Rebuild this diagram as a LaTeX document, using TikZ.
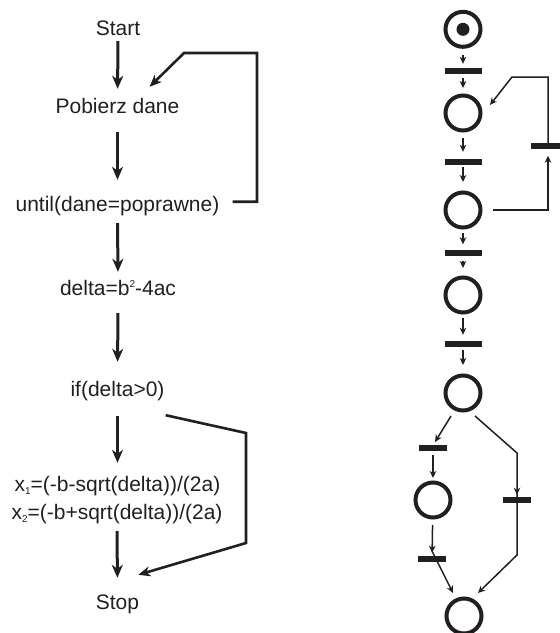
\documentclass[tikz,border=0pt]{standalone}
\usepackage{fontspec}
\setmainfont{Liberation Sans}
\usetikzlibrary{arrows.meta}
\definecolor{ink}{RGB}{35,31,32}
% small raised / lowered indices
\newcommand\lowidx[1]{\raisebox{-3pt}{\fontsize{10}{10}\selectfont#1}}
\newcommand\hiidx[1]{\raisebox{8pt}{\fontsize{10}{10}\selectfont#1}}
\begin{document}
\begin{tikzpicture}[x=1pt,y=-1pt,
  txt/.style={inner sep=0pt, text height=15pt, text depth=4.5pt,
    font=\fontsize{21}{25}\selectfont, text=ink, anchor=base},
  flow/.style={draw=ink, line width=3pt,
    -{Stealth[length=13pt,width=11pt,inset=4pt]}},
  back/.style={draw=ink, line width=2.6pt,
    -{Stealth[length=12pt,width=10pt,inset=3.5pt]}},
  place/.style={circle, draw=ink, line width=4pt, minimum size=35pt, inner sep=0pt},
  bar/.style={fill=ink, minimum width=37pt, minimum height=6pt, inner sep=0pt},
  sbar/.style={bar, minimum width=28pt},
  pnarc/.style={draw=ink, line width=1.5pt,
    -{Stealth[length=7pt,width=6.5pt,inset=2pt]}}]
\useasboundingbox[fill=white] (0,0) rectangle (560,633);

% ---------- flowchart ----------
\node[txt] (start) at (118,35)  {Start};
\node[txt] (pob)   at (117.5,113) {Pobierz dane};
\node[txt] (until) at (117.5,211) {until(dane=poprawne)};
\node[txt] (delta) at (118,295) {delta=b\hiidx{2}-4ac};
\node[txt] (cond)  at (117.5,396) {if(delta>0)};
\node[txt] (xa)    at (117.5,491) {x\lowidx{1}=(-b-sqrt(delta))/(2a)};
\node[txt] (xb)    at (117,519) {x\lowidx{2}=(-b+sqrt(delta))/(2a)};
\node[txt] (stop)  at (117.5,609) {Stop};

\draw[flow, shorten <=1.5pt, shorten >=9pt]  (start.south) -- (pob.north);
\draw[flow, shorten <=14.5pt, shorten >=16pt] (pob.south) -- (until.north);
\draw[flow, shorten <=7.5pt, shorten >=8pt]  (until.south) -- (delta.north);
\draw[flow, shorten <=13.5pt, shorten >=19pt] (delta.south) -- (cond.north);
\draw[flow, shorten <=15.5pt, shorten >=13pt] (cond.south) -- (xa.north);
\draw[flow, shorten <=7.5pt, shorten >=16pt]  (xb.south) -- (stop.north);

% loop back to reading the data
\coordinate (ltop) at (257,53);
\coordinate (lknee) at (184,53);
\draw[back] ([shift={(13,-4)}]until.east) -| (ltop) -- (lknee)
  -- ([shift={(-30,-11)}]pob.north east);
% skip branch of the condition
\coordinate (bk1) at (246,433);
\coordinate (bk2) at (246,543);
\draw[back] ([shift={(1,14.5)}]cond.south east) -- (bk1) -- (bk2)
  -- ([shift={(-1,-19)}]stop.north east);

% ---------- Petri net ----------
\node[place] (p1) at (463,29.3) {};
\fill[ink] (p1.center) circle (6.5);
\node[bar] (t1) at (463,71) {};
\node[place] (p2) at (463,113) {};
\node[bar] (t2) at (463,162) {};
\node[place] (p3) at (463,210) {};
\node[bar] (t3) at (463,252.5) {};
\node[place] (p4) at (463,295) {};
\node[bar] (t4) at (463,344) {};
\node[place] (p5) at (463,393) {};
\node[bar, minimum width=34pt] (tf) at (548,146) {};
\node[sbar] (tl1) at (433,448) {};
\node[sbar] (tr)  at (517,500) {};
\node[place] (p6) at (433,500) {};
\node[sbar] (tl2) at (432,559) {};
\node[place] (p7) at (464,616) {};

\draw[pnarc, shorten <=6pt, shorten >=4pt]   (p1) -- (t1);
\draw[pnarc, shorten <=4pt, shorten >=5.5pt] (t1) -- (p2);
\draw[pnarc, shorten <=5.5pt, shorten >=7pt] (p2) -- (t2);
\draw[pnarc, shorten <=2pt, shorten >=8.5pt] (t2) -- (p3);
\draw[pnarc, shorten <=3.5pt, shorten >=5pt] (p3) -- (t3);
\draw[pnarc, shorten <=5pt, shorten >=7.5pt] (t3) -- (p4);
\draw[pnarc, shorten <=3.5pt, shorten >=6pt] (p4) -- (t4);
\draw[pnarc, shorten <=3pt, shorten >=8.5pt] (t4) -- (p5);

% feedback transition
\coordinate (fbtop) at (512,77);
\draw[pnarc, shorten >=6.5pt] ([xshift=10.5pt]p3.east) -| (tf.south);
\draw[pnarc] (tf.north) |- (fbtop) -- ([shift={(27,-8)}]p2.center);

% two parallel branches
\coordinate (rbend) at (517,453);
\coordinate (rlow) at (517,555);
\draw[pnarc] ([shift={(-12,23)}]p5.center) -- ([shift={(2,-6)}]tl1.center);
\draw[pnarc, shorten >=2pt] ([shift={(12,23)}]p5.center) -- (rbend) -- (tr.north);
\draw[pnarc, shorten <=4pt, shorten >=2.5pt] (tl1) -- (p6);
\draw[pnarc, shorten <=5.5pt, shorten >=3pt] (p6) -- (tl2);
\draw[pnarc] ([yshift=8pt]tl2.center) -- ([shift={(-11,-23)}]p7.center);
\draw[pnarc] ([yshift=9pt]tr.center) -- (rlow) -- ([shift={(14,-23)}]p7.center);
\end{tikzpicture}
\end{document}
